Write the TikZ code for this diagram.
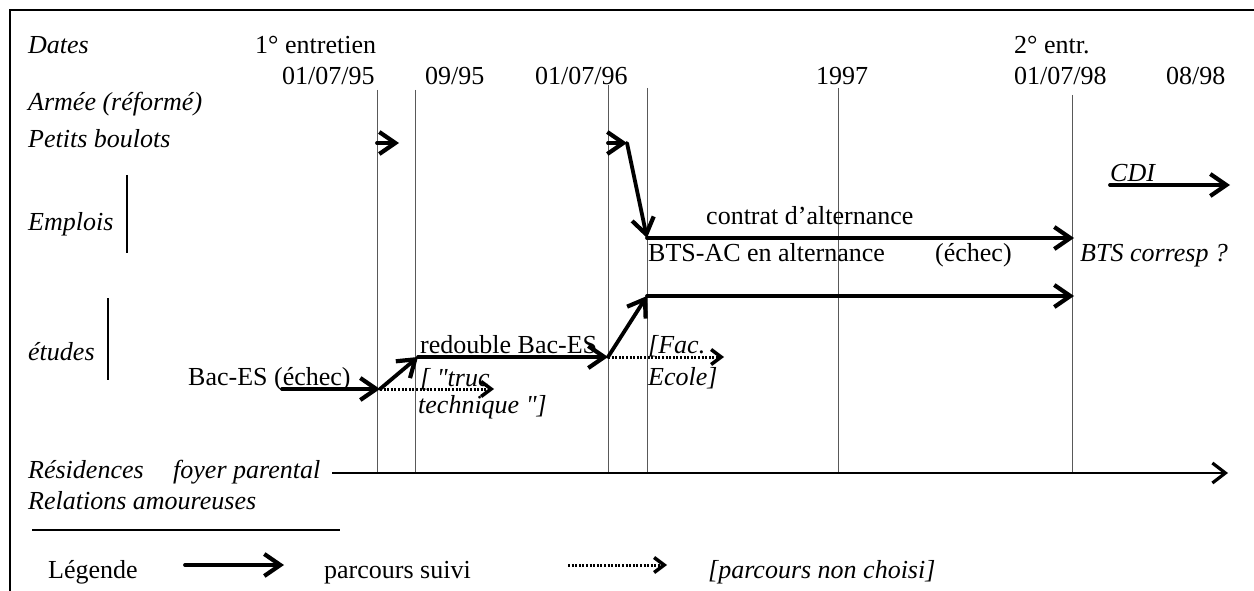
\documentclass[tikz,border=0pt]{standalone}
\usepackage{fontspec}
\setmainfont{Liberation Serif}[Ligatures=TeXOff]
\usetikzlibrary{arrows.meta}
\tikzset{
  txt/.style={anchor=base west, inner sep=0pt, font=\fontsize{26}{30}\selectfont},
  itxt/.style={txt, font=\fontsize{26}{30}\selectfont\itshape},
  guide/.style={line width=0.8pt, black!65},
  bar/.style={line width=2pt},
  follow/.style={line width=3.8pt, line cap=round, line join=round, -{Straight Barb[length=16pt,width=22pt,line width=4.2pt]}},
  notchosen/.style={line width=3pt, dash pattern=on 2pt off 1.6pt, -{Straight Barb[length=10pt,width=15pt,line width=3.5pt]}},
  resid/.style={line width=2.6pt, -{Straight Barb[length=13pt,width=20pt,line width=3.2pt]}},
}
\begin{document}
\begin{tikzpicture}[x=1pt,y=-1pt]
\useasboundingbox (0,0) rectangle (1254,591);
% frame
\draw[line width=1.6pt] (10,591) -- (10,10) -- (1254,10);

% header texts
\node[itxt] (dates) at (28,54) {Dates};
\node[txt] (e1) at (255,54) {1° entretien};
\node[txt] (e2) at (1014,54) {2° entr.};
\node[txt] (d1) at (282,85) {01/07/95};
\node[txt] (d2) at (425,85) {09/95};
\node[txt] (d3) at (535,85) {01/07/96};
\node[txt] (d4) at (816,85) {1997};
\node[txt] (d5) at (1014,85) {01/07/98};
\node[txt] (d6) at (1166,85) {08/98};

% row labels
\node[itxt] (armee) at (28,111) {Armée (réformé)};
\node[itxt] (petits) at (28,148) {Petits boulots};
\node[itxt] (emplois) at (28,230) {Emplois};
\node[itxt] (etudes) at (28,360) {études};
\node[itxt] (resid) at (28,478) {Résidences};
\node[itxt] (foyer) at (173,478) {foyer parental};
\node[itxt] (relat) at (28,509) {Relations amoureuses};

% bars beside labels
\coordinate (b1t) at (127,175); \coordinate (b1b) at (127,253);
\coordinate (b2t) at (108,298); \coordinate (b2b) at (108,380);
\draw[bar] (b1t) -- (b1b);
\draw[bar] (b2t) -- (b2b);

% guide lines
\foreach \n/\x/\t in {g1/377/90, g2/415/90, g3/608/85, g4/647/88, g5/838/88, g6/1072/95}{
  \coordinate (\n t) at (\x,\t);
  \coordinate (\n b) at (\x,474);
  \draw[guide] (\n t) -- (\n b);
}

% path texts
\node[txt] (bac) at (188,385) {Bac-ES (échec)};
\node[txt] (redouble) at (420,353) {redouble Bac-ES};
\node[itxt] (truc) at (420,386) {[ "truc};
\node[itxt] (techn) at (418,413) {technique "]};
\node[itxt] (fac) at (648,353) {[Fac.};
\node[itxt] (ecole) at (648,385) {Ecole]};
\node[txt] (contrat) at (706,225) {contrat d’alternance};
\node[txt] (bts) at (648,261) {BTS-AC en alternance};
\node[txt] (echec) at (935,261) {(échec)};
\node[itxt] (corresp) at (1080,261) {BTS corresp ?};
\node[itxt] (cdi) at (1110,182) {CDI};

% path coordinates
\coordinate (pa) at (377,143); \coordinate (pb) at (399,143);
\coordinate (pc) at (608,143); \coordinate (pd) at (627,143);
\coordinate (ca) at (647,238); \coordinate (cb) at (1074,238);
\coordinate (ba) at (647,296); \coordinate (bb) at (1074,296);
\coordinate (r1) at (608,357);
\coordinate (q0) at (282,389); \coordinate (q1) at (380,389);
\coordinate (q2) at (418,357);
\coordinate (t1) at (494,389); \coordinate (f1) at (724,357);
\coordinate (cdia) at (1110,185); \coordinate (cdib) at (1230,185);
\coordinate (ra) at (332,473); \coordinate (rb) at (1228,473);

% followed path
\draw[follow] (pa) -- (pb);
\draw[follow] (pc) -- (pd);
\draw[follow] (pd) -- (ca);
\draw[follow] (ca) -- (cb);
\draw[follow] (ba) -- (bb);
\draw[follow] (r1) -- (ba);
\draw[follow] (q0) -- (q1);
\draw[follow] (q1) -- (q2);
\draw[follow] (q2) -- (r1);
\draw[follow] (cdia) -- (cdib);
% not chosen
\draw[notchosen] (q1) -- (t1);
\draw[notchosen] (r1) -- (f1);
% residence
\draw[resid] (ra) -- (rb);

% separator
\coordinate (sa) at (32,530); \coordinate (sb) at (340,530);
\draw[line width=2pt] (sa) -- (sb);

% legend
\node[txt] (leg) at (48,578) {Légende};
\coordinate (la) at (185,565); \coordinate (lb) at (284,565);
\draw[follow] (la) -- (lb);
\node[txt] (suivi) at (324,578) {parcours suivi};
\coordinate (lc) at (568,565); \coordinate (ld) at (667,565);
\draw[notchosen] (lc) -- (ld);
\node[itxt] (nonch) at (708,578) {[parcours non choisi]};
\end{tikzpicture}
\end{document}
